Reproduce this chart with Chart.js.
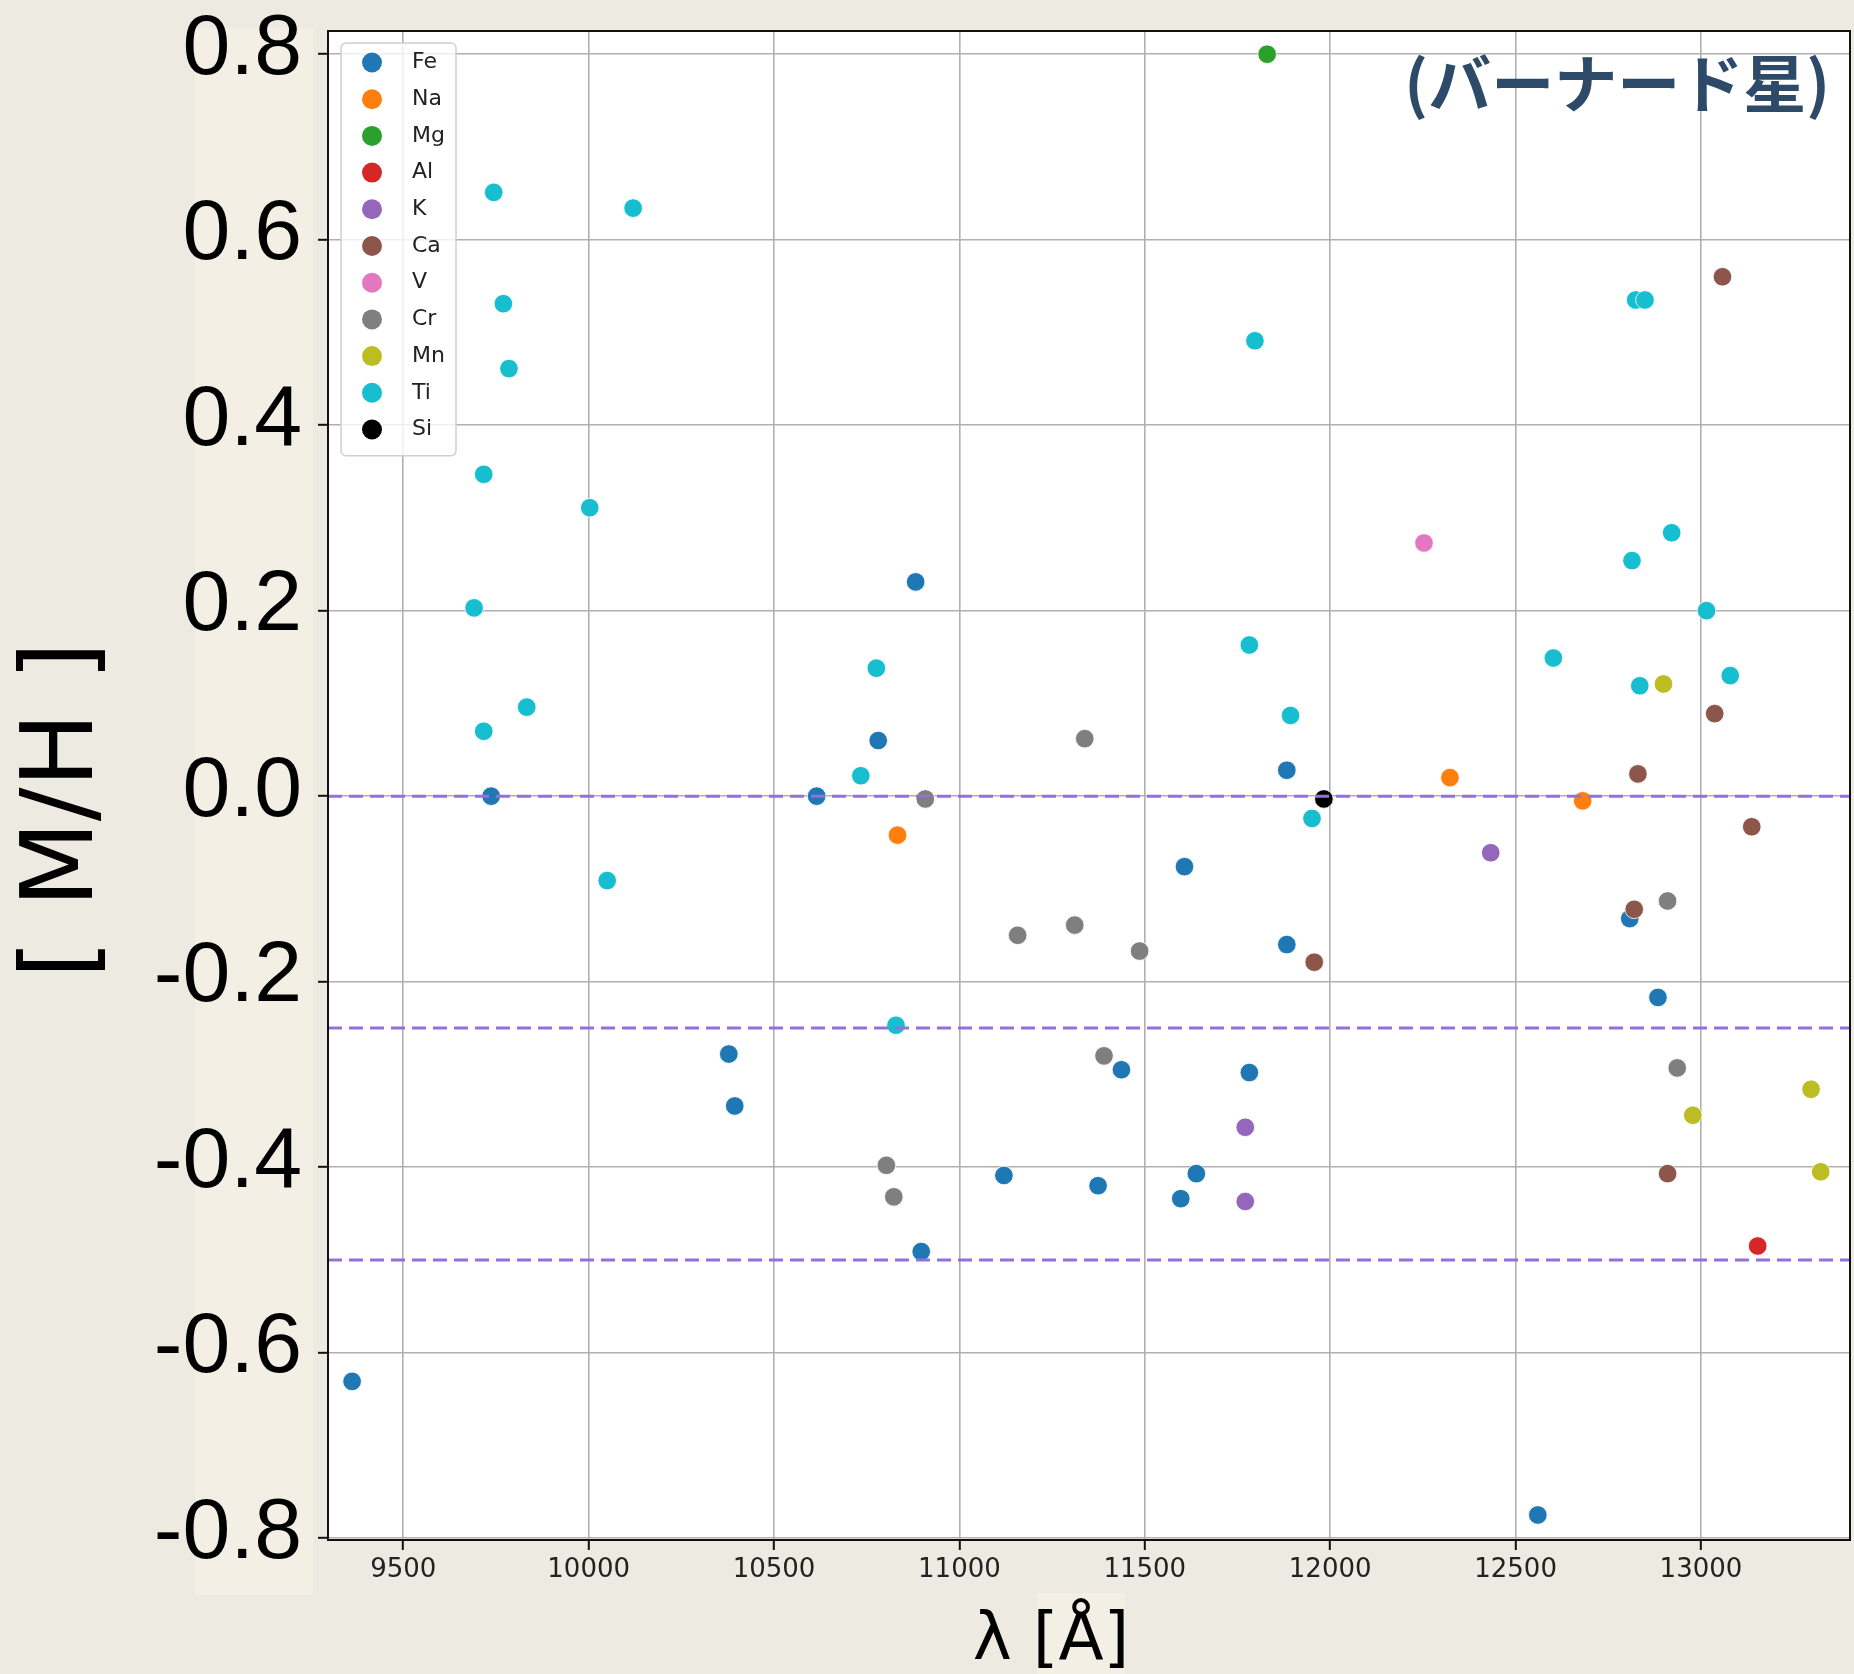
<!DOCTYPE html>
<html lang="ja">
<head>
<meta charset="UTF-8">
<title>[M/H] vs λ (バーナード星)</title>
<script src="https://cdn.jsdelivr.net/npm/chart.js@4.4.1/dist/chart.umd.min.js"></script>
<style>
    html, body { margin: 0; padding: 0; background: #edeae1; overflow: hidden; }
    #abundanceChart { display: block; }
</style>
</head>
<body>
<canvas id="abundanceChart" width="1854" height="1674"></canvas>
<script>
// ============================================
// Line-by-line [M/H] against wavelength
// ============================================

const ELEMENTS = ['Fe', 'Na', 'Mg', 'Al', 'K', 'Ca', 'V', 'Cr', 'Mn', 'Ti', 'Si'];
const ELEMENT_COLORS = ['#1f77b4', '#ff7f0e', '#2ca02c', '#d62728', '#9467bd', '#8c564b',
    '#e377c2', '#7f7f7f', '#bcbd22', '#17becf', '#000000'];

// wavelength [Å] / [M/H] of each measured line
const FE_WAVE = [9362, 9737, 10378, 10394, 10615, 10781, 10882, 10897, 11120, 11374,
    11437, 11597, 11607, 11639, 11782, 11883, 11883, 12560, 12808, 12884];
const FE_MH = [-0.631, 0.000, -0.278, -0.334, 0.000, 0.060, 0.231, -0.491, -0.409, -0.420,
    -0.295, -0.434, -0.076, -0.407, -0.298, 0.028, -0.160, -0.775, -0.132, -0.217];

const NA_WAVE = [10833, 12323, 12681];
const NA_MH = [-0.042, 0.020, -0.005];

const MG_WAVE = [11830];
const MG_MH = [0.800];

const AL_WAVE = [13153];
const AL_MH = [-0.485];

const K_WAVE = [11771, 11771, 12433];
const K_MH = [-0.357, -0.437, -0.061];

const CA_WAVE = [11957, 12820, 12830, 12910, 13037, 13058, 13137];
const CA_MH = [-0.179, -0.122, 0.024, -0.407, 0.089, 0.560, -0.033];

const V_WAVE = [12253];
const V_MH = [0.273];

const CR_WAVE = [10803, 10823, 10908, 11157, 11311, 11338, 11390, 11486, 12910, 12936];
const CR_MH = [-0.398, -0.432, -0.003, -0.150, -0.139, 0.062, -0.280, -0.167, -0.113, -0.293];

const MN_WAVE = [12899, 12978, 13297, 13323];
const MN_MH = [0.121, -0.344, -0.316, -0.405];

const TI_WAVE = [9691, 9717, 9717, 9744, 9770, 9785, 9833, 10003, 10050, 10120,
    10734, 10776, 10829, 11782, 11797, 11893, 11951, 12602, 12814, 12824,
    12835, 12849, 12921, 13015, 13079];
const TI_MH = [0.203, 0.347, 0.070, 0.651, 0.531, 0.461, 0.096, 0.311, -0.091, 0.634,
    0.022, 0.138, -0.247, 0.163, 0.491, 0.087, -0.024, 0.149, 0.254, 0.535,
    0.119, 0.535, 0.284, 0.200, 0.130];

const SI_WAVE = [11983];
const SI_MH = [-0.003];

const SERIES_WAVE = [FE_WAVE, NA_WAVE, MG_WAVE, AL_WAVE, K_WAVE, CA_WAVE, V_WAVE, CR_WAVE, MN_WAVE, TI_WAVE, SI_WAVE];
const SERIES_MH = [FE_MH, NA_MH, MG_MH, AL_MH, K_MH, CA_MH, V_MH, CR_MH, MN_MH, TI_MH, SI_MH];

// dashed reference levels
const REF_LEVELS = [0, -0.25, -0.5];

// axes
const X_TICKS = [9500, 10000, 10500, 11000, 11500, 12000, 12500, 13000];
const Y_TICKS = [-0.8, -0.6, -0.4, -0.2, 0.0, 0.2, 0.4, 0.6, 0.8];
const X_MIN = 9297, X_MAX = 13402;
const Y_MIN = -0.802, Y_MAX = 0.825;

const STAR_LABEL = '(バーナード星)';
const X_TITLE = 'λ [Å]';
const Y_TITLE = '[ M/H ]';

const PAPER = '#edeae1';
const PANEL = '#f3efe4';
const GRID = '#b0b0b0';

document.addEventListener('DOMContentLoaded', () => {
    renderAbundanceChart();
});

function buildDatasets() {
    const points = ELEMENTS.map((name, i) => ({
        label: name,
        data: SERIES_WAVE[i].map((w, j) => ({ x: w, y: SERIES_MH[i][j] })),
        backgroundColor: ELEMENT_COLORS[i],
        borderColor: '#ffffff',
        borderWidth: 0.8,
        pointRadius: 9.3,
        pointHoverRadius: 9.3,
        order: ELEMENTS.length - i,
    }));
    const guides = REF_LEVELS.map(v => ({
        label: 'ref ' + v,
        isGuide: true,
        data: [{ x: X_MIN, y: v }, { x: X_MAX, y: v }],
        showLine: true,
        borderColor: '#9370db',
        borderWidth: 3,
        borderDash: [14, 7],
        pointRadius: 0,
        order: 0,
    }));
    return points.concat(guides);
}

// white plot face + cream panels behind the axis texts
const backdropPlugin = {
    id: 'backdrop',
    beforeDraw(chart) {
        const { ctx, chartArea: a } = chart;
        ctx.save();
        ctx.fillStyle = PAPER;
        ctx.fillRect(0, 0, chart.width, chart.height);
        ctx.fillStyle = PANEL;
        ctx.fillRect(195, 28, 118, 1567);
        ctx.fillRect(1037, 1593, 88, 81);
        ctx.fillStyle = '#ffffff';
        ctx.fillRect(a.left, a.top, a.right - a.left, a.bottom - a.top);
        ctx.restore();
    },
    afterDraw(chart) {
        const { ctx, chartArea: a } = chart;
        ctx.save();
        ctx.strokeStyle = '#111';
        ctx.lineWidth = 2;
        ctx.strokeRect(a.left, a.top, a.right - a.left, a.bottom - a.top);
        ctx.restore();
    }
};

// legend sits inside the plot, upper left
const insetLegendPlugin = {
    id: 'insetLegend',
    afterDraw(chart) {
        const { ctx, chartArea: a } = chart;
        const items = chart.data.datasets.filter(d => !d.isGuide);
        const rowH = 36.7;
        const boxX = a.left + 13, boxY = a.top + 12;
        const boxW = 115, boxH = items.length * rowH + 9;
        ctx.save();
        ctx.beginPath();
        ctx.roundRect(boxX, boxY, boxW, boxH, 5);
        ctx.fillStyle = 'rgba(255,255,255,0.8)';
        ctx.fill();
        ctx.strokeStyle = '#d0d0d0';
        ctx.lineWidth = 1.5;
        ctx.stroke();
        ctx.font = '22px "DejaVu Sans"';
        ctx.textBaseline = 'middle';
        ctx.textAlign = 'left';
        items.forEach((d, i) => {
            const cy = boxY + 19.5 + i * rowH;
            ctx.beginPath();
            ctx.arc(boxX + 31, cy, 10, 0, Math.PI * 2);
            ctx.fillStyle = d.backgroundColor;
            ctx.fill();
            ctx.fillStyle = '#222';
            ctx.fillText(d.label, boxX + 71, cy);
        });
        ctx.restore();
    }
};

// star name, x title and y title
const labelsPlugin = {
    id: 'labels',
    afterDraw(chart) {
        const { ctx, chartArea: a } = chart;
        ctx.save();
        ctx.fillStyle = '#2e4a69';
        ctx.font = 'bold 63px "Noto Sans CJK JP"';
        ctx.textAlign = 'right';
        ctx.textBaseline = 'middle';
        ctx.fillText(STAR_LABEL, a.right - 20, a.top + 52);

        ctx.fillStyle = '#000';
        ctx.font = '66px "DejaVu Sans"';
        ctx.textAlign = 'center';
        ctx.textBaseline = 'alphabetic';
        ctx.fillText(X_TITLE, 1051, 1659);

        ctx.translate(66, 810);
        ctx.rotate(-Math.PI / 2);
        ctx.font = '100px "DejaVu Sans"';
        ctx.textBaseline = 'middle';
        ctx.fillText(Y_TITLE, 0, 0);
        ctx.restore();
    }
};

function renderAbundanceChart() {
    const ctx = document.getElementById('abundanceChart');
    if (!ctx) return;
    new Chart(ctx, {
        type: 'scatter',
        data: { datasets: buildDatasets() },
        options: {
            responsive: false, animation: false, devicePixelRatio: 1,
            layout: { autoPadding: false, padding: { top: 31, right: 4, bottom: 0, left: 0 } },
            plugins: { legend: { display: false }, tooltip: { enabled: false } },
            scales: {
                x: {
                    type: 'linear', min: X_MIN, max: X_MAX,
                    afterBuildTicks: s => { s.ticks = X_TICKS.map(v => ({ value: v })); },
                    afterFit: s => { s.height = 134; s.paddingLeft = 0; s.paddingRight = 0; },
                    ticks: {
                        autoSkip: false, maxRotation: 0, padding: 5, color: '#222',
                        font: { family: 'DejaVu Sans', size: 26 },
                        callback: v => String(v),
                    },
                    grid: { color: GRID, lineWidth: 1.6, tickLength: 10, tickColor: '#111', tickWidth: 2 },
                    border: { color: '#111', width: 2 },
                },
                y: {
                    type: 'linear', min: Y_MIN, max: Y_MAX,
                    afterBuildTicks: s => { s.ticks = Y_TICKS.map(v => ({ value: v })); },
                    afterFit: s => { s.width = 328; s.paddingTop = 0; s.paddingBottom = 0; },
                    ticks: {
                        autoSkip: false, padding: 16, color: '#000', labelOffset: -4,
                        font: { family: 'Liberation Sans', size: 86 },
                        callback: v => v.toFixed(1),
                    },
                    grid: { color: GRID, lineWidth: 1.6, tickLength: 10, tickColor: '#111', tickWidth: 2 },
                    border: { color: '#111', width: 2 },
                },
            },
        },
        plugins: [backdropPlugin, insetLegendPlugin, labelsPlugin],
    });
}
</script>
</body>
</html>
